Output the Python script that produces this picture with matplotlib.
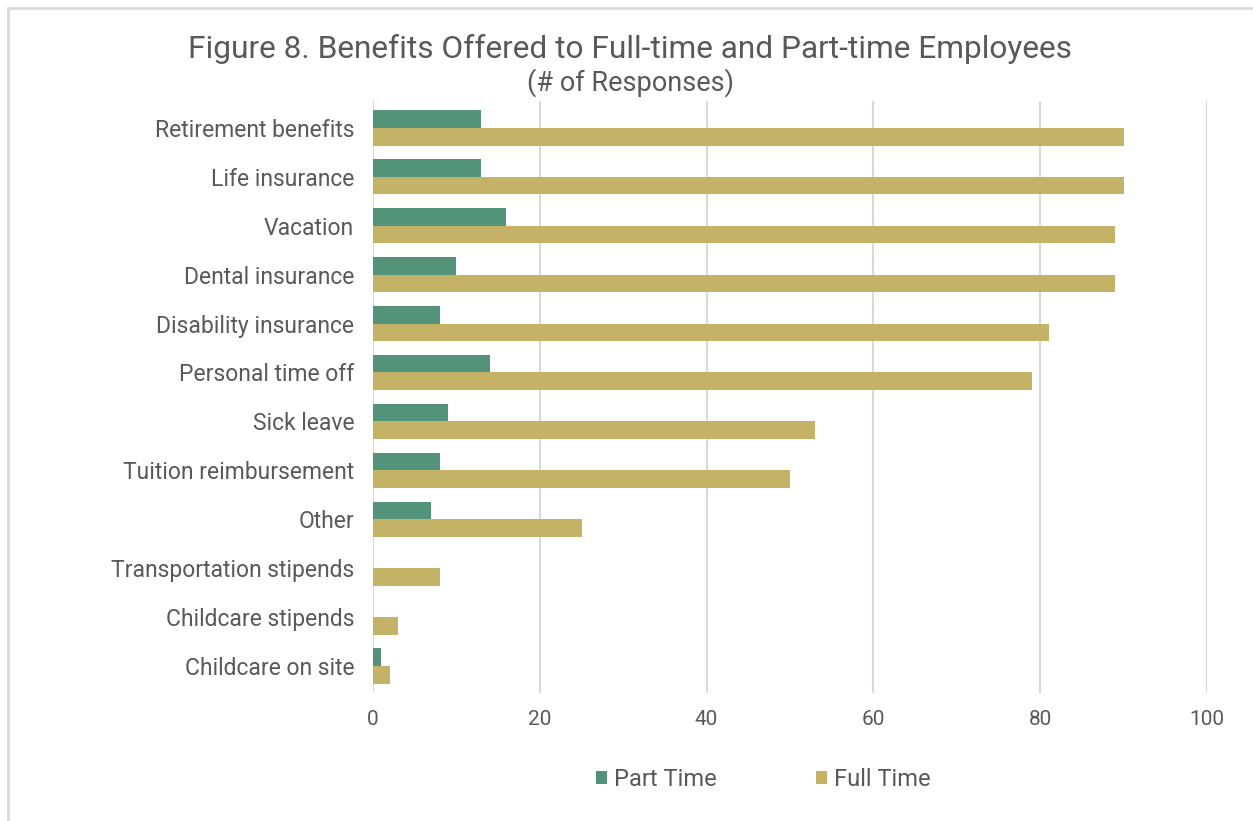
import numpy as np
import matplotlib.pyplot as plt
from matplotlib.patches import Rectangle

categories = ['Retirement benefits', 'Life insurance', 'Vacation', 'Dental insurance',
              'Disability insurance', 'Personal time off', 'Sick leave',
              'Tuition reimbursement', 'Other', 'Transportation stipends',
              'Childcare stipends', 'Childcare on site']
part_time = [13, 13, 16, 10, 8, 14, 9, 8, 7, 0, 0, 1]
full_time = [90, 90, 89, 89, 81, 79, 53, 50, 25, 8, 3, 2]
xticks = [0, 20, 40, 60, 80, 100]

plt.rcParams['font.family'] = ['Roboto', 'DejaVu Sans']
txt = '#595959'
green = '#53937A'
gold = '#C4B266'

fig = plt.figure(figsize=(12.53, 8.21), dpi=100)
ax = fig.add_axes([0.2977, 0.156, 0.6656, 0.721])

y = np.arange(len(categories))
h = 0.36
ax.barh(y - h / 2, part_time, height=h, color=green, label='Part Time', zorder=3)
ax.barh(y + h / 2, full_time, height=h, color=gold, label='Full Time', zorder=3)

ax.set_ylim(len(categories) - 0.45, -0.55)
ax.set_xlim(0, 100)
ax.set_xticks(xticks)
ax.set_yticks(y)
ax.set_yticklabels(categories, fontsize=16.5)
ax.tick_params(length=0, labelcolor=txt)
ax.tick_params(axis='x', pad=12, labelsize=15)
ax.tick_params(axis='y', pad=13.5)
ax.grid(axis='x', color='#d9d9d9', linewidth=1.5, zorder=0)
for s in ax.spines.values():
    s.set_visible(False)

fig.text(0.503, 0.940, 'Figure 8. Benefits Offered to Full-time and Part-time Employees',
         ha='center', va='center', fontsize=22.8, color=txt)
fig.text(0.503, 0.899, '(# of Responses)', ha='center', va='center', fontsize=19.5, color=txt)

ax.legend(loc='center', bbox_to_anchor=(0.468, -0.146), ncol=2, frameon=False,
          fontsize=17, labelcolor=txt, handlelength=0.45, handleheight=0.45,
          columnspacing=4.2, handletextpad=0.3)

fig.patches.append(Rectangle((8 / 1253, -0.1), 1.2, 1.1 - 8 / 821, transform=fig.transFigure,
                             fill=False, edgecolor='#d9d9d9', linewidth=2))

fig.savefig('out.png', dpi=100)
